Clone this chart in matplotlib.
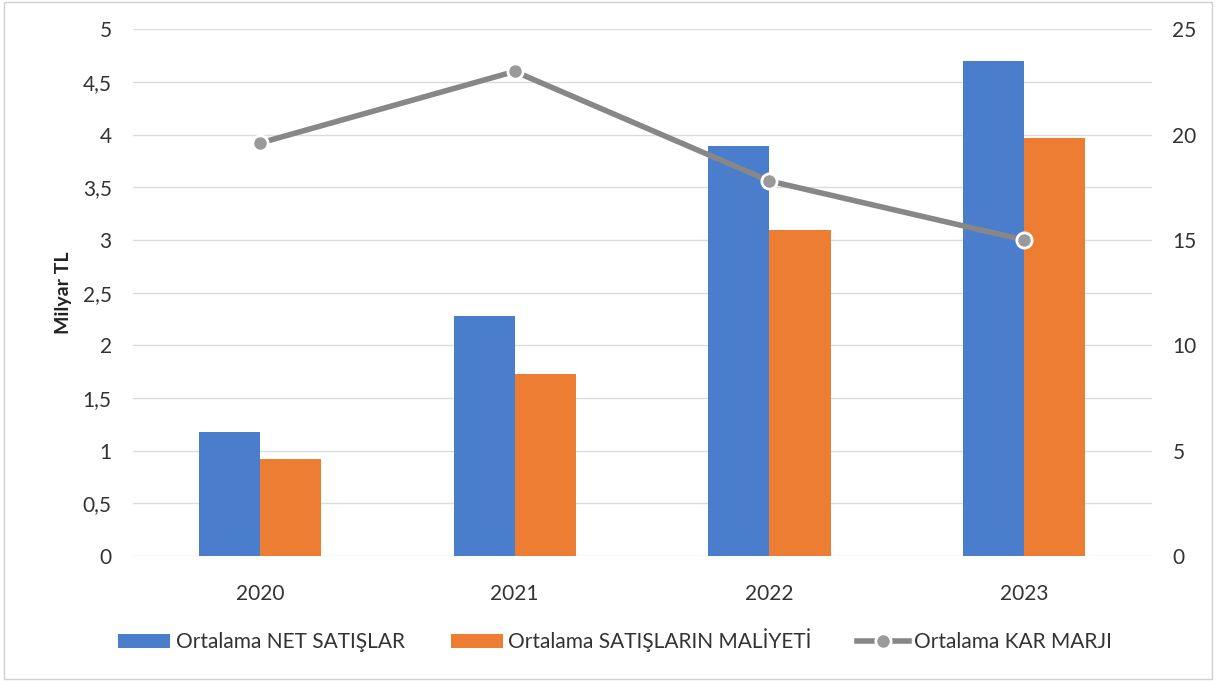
import matplotlib
matplotlib.use("Agg")
import matplotlib.pyplot as plt
import numpy as np
from matplotlib.patches import Rectangle

plt.rcParams['font.family'] = ['Lato', 'DejaVu Sans']

years = ["2020", "2021", "2022", "2023"]
net_satislar = [1.18, 2.28, 3.89, 4.70]
satis_maliyeti = [0.92, 1.73, 3.09, 3.97]
kar_marji = [19.6, 23.0, 17.8, 15.0]
left_ticks = [0, 0.5, 1, 1.5, 2, 2.5, 3, 3.5, 4, 4.5, 5]
left_labels = ["0", "0,5", "1", "1,5", "2", "2,5", "3", "3,5", "4", "4,5", "5"]
right_ticks = [0, 5, 10, 15, 20, 25]

BLUE = "#4a7dcb"
ORANGE = "#ec7d32"
GRAY = "#878787"
TXT = "#333333"

fig = plt.figure(figsize=(12.16, 6.81), dpi=100)
ax = fig.add_axes([0.109, 0.1836, 0.838, 0.7734])
x = np.arange(len(years))
w = 0.24
b1 = ax.bar(x - w / 2, net_satislar, w, color=BLUE, label="Ortalama NET SATIŞLAR", zorder=2)
b2 = ax.bar(x + w / 2, satis_maliyeti, w, color=ORANGE, label="Ortalama SATIŞLARIN MALİYETİ", zorder=2)
ax.set_xlim(-0.5, 3.5)
ax.set_ylim(0, 5)
ax.set_yticks(left_ticks)
ax.set_yticklabels(left_labels)
ax.set_xticks(x)
ax.set_xticklabels(years)
ax.grid(axis='y', color="#dcdcdc", linewidth=1, zorder=0)
ax.set_axisbelow(True)
for s in ax.spines.values():
    s.set_visible(False)
ax.tick_params(length=0, labelsize=15, colors=TXT)
ax.tick_params(axis='x', pad=20)
ax.tick_params(axis='y', pad=15)
ax.set_ylabel("Milyar TL", fontsize=14, fontweight='bold', color="#222222", labelpad=8)

ax2 = ax.twinx()
ax2.set_ylim(0, 25)
ax2.set_yticks(right_ticks)
l, = ax2.plot(x, kar_marji, color=GRAY, linewidth=4, marker='o', markersize=11,
              markerfacecolor="#9a9a9a", markeredgecolor="white", markeredgewidth=2,
              label="Ortalama KAR MARJI", zorder=3)
for s in ax2.spines.values():
    s.set_visible(False)
ax2.tick_params(axis='y', which='both', length=0, labelsize=15, colors=TXT, pad=15)

fig.legend([b1, b2, l], [b1.get_label(), b2.get_label(), l.get_label()],
           loc='center', bbox_to_anchor=(0.506, 0.06), ncol=3, frameon=False,
           fontsize=15, handlelength=2.5, handleheight=0.65, columnspacing=2.2,
           handletextpad=0.25, labelcolor=TXT)

fig.patches.append(Rectangle((0.003, 0.003), 0.994, 0.994, transform=fig.transFigure,
                             fill=False, edgecolor="#d0d0d0", linewidth=1))
fig.savefig("out.png", dpi=100)
